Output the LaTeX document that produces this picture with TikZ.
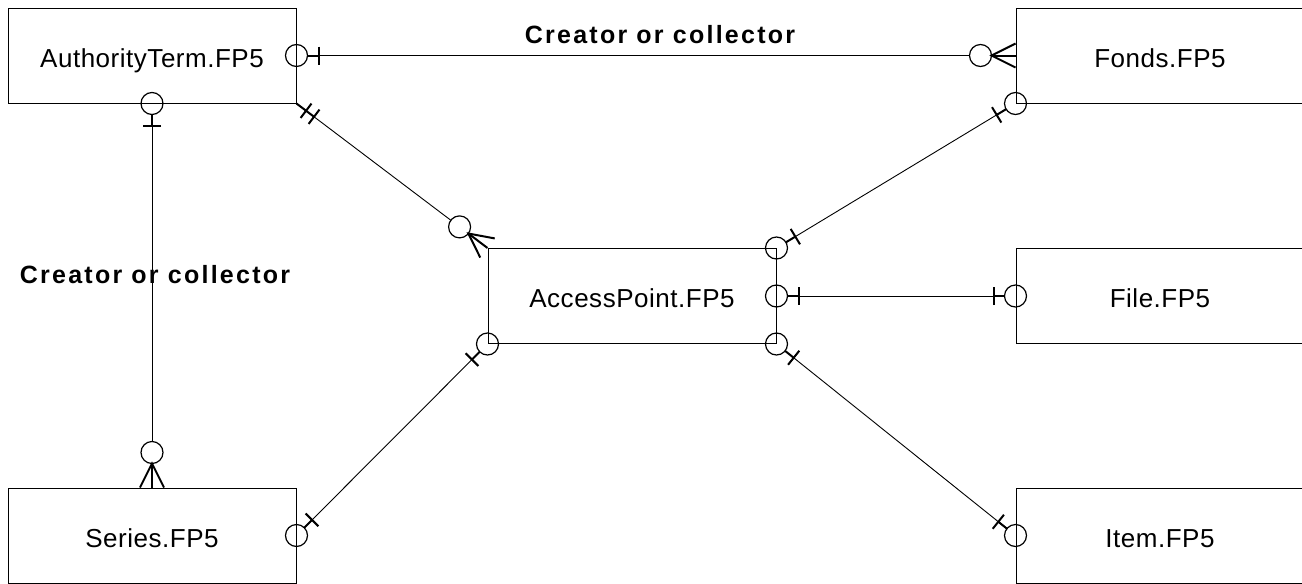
\documentclass[tikz,border=0pt]{standalone}
\usepackage{fontspec}
\setmainfont{Liberation Sans}
\setsansfont{Liberation Sans}
\usetikzlibrary{calc}

% crow's-foot end marks
\newcommand\erZeroOne[2]{%
  \draw[ercirc] (#1) circle[radius=11pt];
  \draw[erthick] ($(#1)!11pt!(#2)$) -- ($(#1)!22pt!(#2)$);
  \draw[erthick] ($(#1)!22pt!(#2)!9pt!90:(#2)$) -- ($(#1)!22pt!(#2)!9pt!-90:(#2)$);
}
\newcommand\erZeroMany[2]{%
  \draw[ercirc] ($(#1)!35pt!(#2)$) circle[radius=11pt];
  \draw[erthick] ($(#1)!12pt!90:(#2)$) -- ($(#1)!24pt!(#2)$) -- ($(#1)!12pt!-90:(#2)$);
  \draw[erthick] (#1) -- ($(#1)!24pt!(#2)$);
}
\newcommand\erOnlyOne[2]{%
  \draw[erthick] (#1) -- ($(#1)!22pt!(#2)$);
  \foreach \dd in {12,22}
    \draw[erthick] ($(#1)!\dd pt!(#2)!9pt!90:(#2)$) -- ($(#1)!\dd pt!(#2)!9pt!-90:(#2)$);
}

\begin{document}
\begin{tikzpicture}[x=1pt,y=-1pt,
  entity/.style={draw, line width=1pt, rectangle, inner sep=0pt,
    minimum width=288pt, minimum height=95pt,
    text height=23pt, text depth=0pt,
    font=\fontsize{26}{30}\selectfont\addfontfeature{LetterSpace=2}},
  rel/.style={line width=0.9pt},
  ercirc/.style={line width=1.2pt},
  erthick/.style={line width=2pt},
  rellabel/.style={anchor=base, inner sep=0pt,
    font=\fontsize{25}{30}\selectfont\bfseries\addfontfeature{LetterSpace=9}}]
\useasboundingbox (0,0) rectangle (1302,584);

% entities
\node[entity] (auth)   at (152,55.5)  {AuthorityTerm.FP5};
\node[entity] (fonds)  at (1160,55.5) {Fonds.FP5};
\node[entity] (ap)     at (632,296)   {AccessPoint.FP5};
\node[entity] (file)   at (1160,296)  {File.FP5};
\node[entity] (series) at (152,535.5) {Series.FP5};
\node[entity] (item)   at (1160,535.5) {Item.FP5};

% relationship lines
\draw[rel, shorten <=11pt, shorten >=46pt] (auth.east) -- (fonds.west);
\draw[rel, shorten <=11pt, shorten >=46pt] (auth.south) -- (series.north);
\draw[rel, shorten >=46pt] (auth.south east) -- (ap.north west);
\draw[rel, shorten <=11pt, shorten >=11pt] (fonds.south west) -- (ap.north east);
\draw[rel, shorten <=11pt, shorten >=11pt] (ap.east) -- (file.west);
\draw[rel, shorten <=11pt, shorten >=11pt] (ap.south west) -- (series.east);
\draw[rel, shorten <=11pt, shorten >=11pt] (ap.south east) -- (item.west);

% cardinalities
\erZeroOne{auth.east}{fonds.west}
\erZeroMany{fonds.west}{auth.east}
\erZeroOne{auth.south}{series.north}
\erZeroMany{series.north}{auth.south}
\erOnlyOne{auth.south east}{ap.north west}
\erZeroMany{ap.north west}{auth.south east}
\erZeroOne{fonds.south west}{ap.north east}
\erZeroOne{ap.north east}{fonds.south west}
\erZeroOne{ap.east}{file.west}
\erZeroOne{file.west}{ap.east}
\erZeroOne{ap.south west}{series.east}
\erZeroOne{series.east}{ap.south west}
\erZeroOne{ap.south east}{item.west}
\erZeroOne{item.west}{ap.south east}

% relationship names
\node[rellabel] (lblTop)  at (660,43)  {Creator or collector};
\node[rellabel] (lblLeft) at (155,283) {Creator or collector};
\end{tikzpicture}
\end{document}
